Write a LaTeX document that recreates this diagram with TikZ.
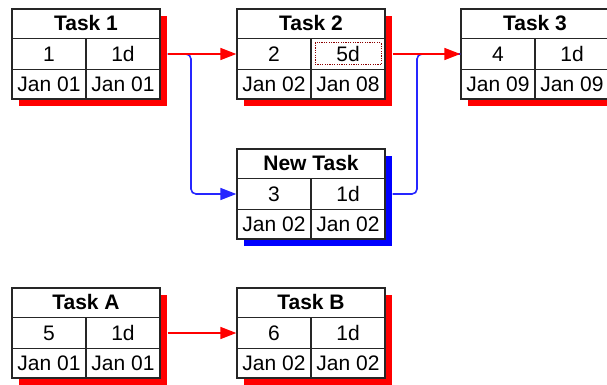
\documentclass[tikz,border=0pt]{standalone}
\usepackage{fontspec}
\setmainfont{Liberation Sans}
\usetikzlibrary{arrows.meta,calc,shadows}
\tikzset{
  taskbox/.style={draw=black!85, line width=1.3pt, fill=white, minimum width=148pt, minimum height=90pt, inner sep=0pt},
  cellline/.style={draw=black!85, line width=1.3pt},
  titletext/.style={font=\fontsize{21}{23}\selectfont\bfseries, inner sep=0pt},
  celltext/.style={font=\fontsize{21}{23}\selectfont, inner sep=0pt},
  redflow/.style={-{Triangle[length=16pt,width=12pt]}, draw=red, line width=1.6pt},
  blueflow/.style={-{Triangle[length=16pt,width=12pt]}, draw=blue!85, line width=1.6pt, rounded corners=5pt},
  bluejoin/.style={draw=blue!85, line width=1.6pt, rounded corners=5pt},
  focus/.style={draw=red!55!black, dash pattern=on 1.2pt off 1.2pt, line width=1pt, minimum width=66pt, minimum height=22pt}
}
% one PERT box: name, position, title, id, duration, start, finish, shadow colour
\newcommand{\pertbox}[8]{%
  \node[taskbox, general shadow={fill=#8, shadow xshift=7pt, shadow yshift=-7pt}] (#1) at (#2) {};
  \draw[cellline] ([yshift=-30pt]#1.north west) -- ([yshift=-30pt]#1.north east);
  \draw[cellline] ([yshift=30pt]#1.south west) -- ([yshift=30pt]#1.south east);
  \draw[cellline] ([yshift=-30pt]#1.north) -- (#1.south);
  \node[titletext] (#1-title) at ([yshift=-15pt]#1.north) {#3};
  \node[celltext] (#1-id) at ([xshift=-37pt]#1.center) {#4};
  \node[celltext] (#1-dur) at ([xshift=37pt]#1.center) {#5};
  \node[celltext] (#1-start) at ([xshift=-37pt,yshift=15pt]#1.south) {#6};
  \node[celltext] (#1-finish) at ([xshift=37pt,yshift=15pt]#1.south) {#7};
}

\begin{document}
\begin{tikzpicture}[x=1pt,y=-1pt]
  \useasboundingbox (0,0) rectangle (607,385);
  \pertbox{task1}{86,54}{Task 1}{1}{1d}{Jan 01}{Jan 01}{red}
  \pertbox{task2}{311,54}{Task 2}{2}{5d}{Jan 02}{Jan 08}{red}
  \pertbox{task3}{535,54}{Task 3}{4}{1d}{Jan 09}{Jan 09}{red}
  \pertbox{newtask}{311,194}{New Task}{3}{1d}{Jan 02}{Jan 02}{blue}
  \pertbox{taskA}{86,333}{Task A}{5}{1d}{Jan 01}{Jan 01}{red}
  \pertbox{taskB}{311,333}{Task B}{6}{1d}{Jan 02}{Jan 02}{red}
  \node[focus] (task2-mark) at (task2-dur) {};
  % links
  \coordinate (split) at (191,54);
  \coordinate (merge) at (417,54);
  \draw[blueflow] ([xshift=7pt]task1.east) -- (split) |- (newtask.west);
  \draw[bluejoin] ([xshift=7pt]newtask.east) -| (merge) -- (task3.west);
  \draw[redflow] ([xshift=7pt]task1.east) -- (task2.west);
  \draw[redflow] ([xshift=7pt]task2.east) -- (task3.west);
  \draw[redflow] ([xshift=7pt]taskA.east) -- (taskB.west);
\end{tikzpicture}
\end{document}
